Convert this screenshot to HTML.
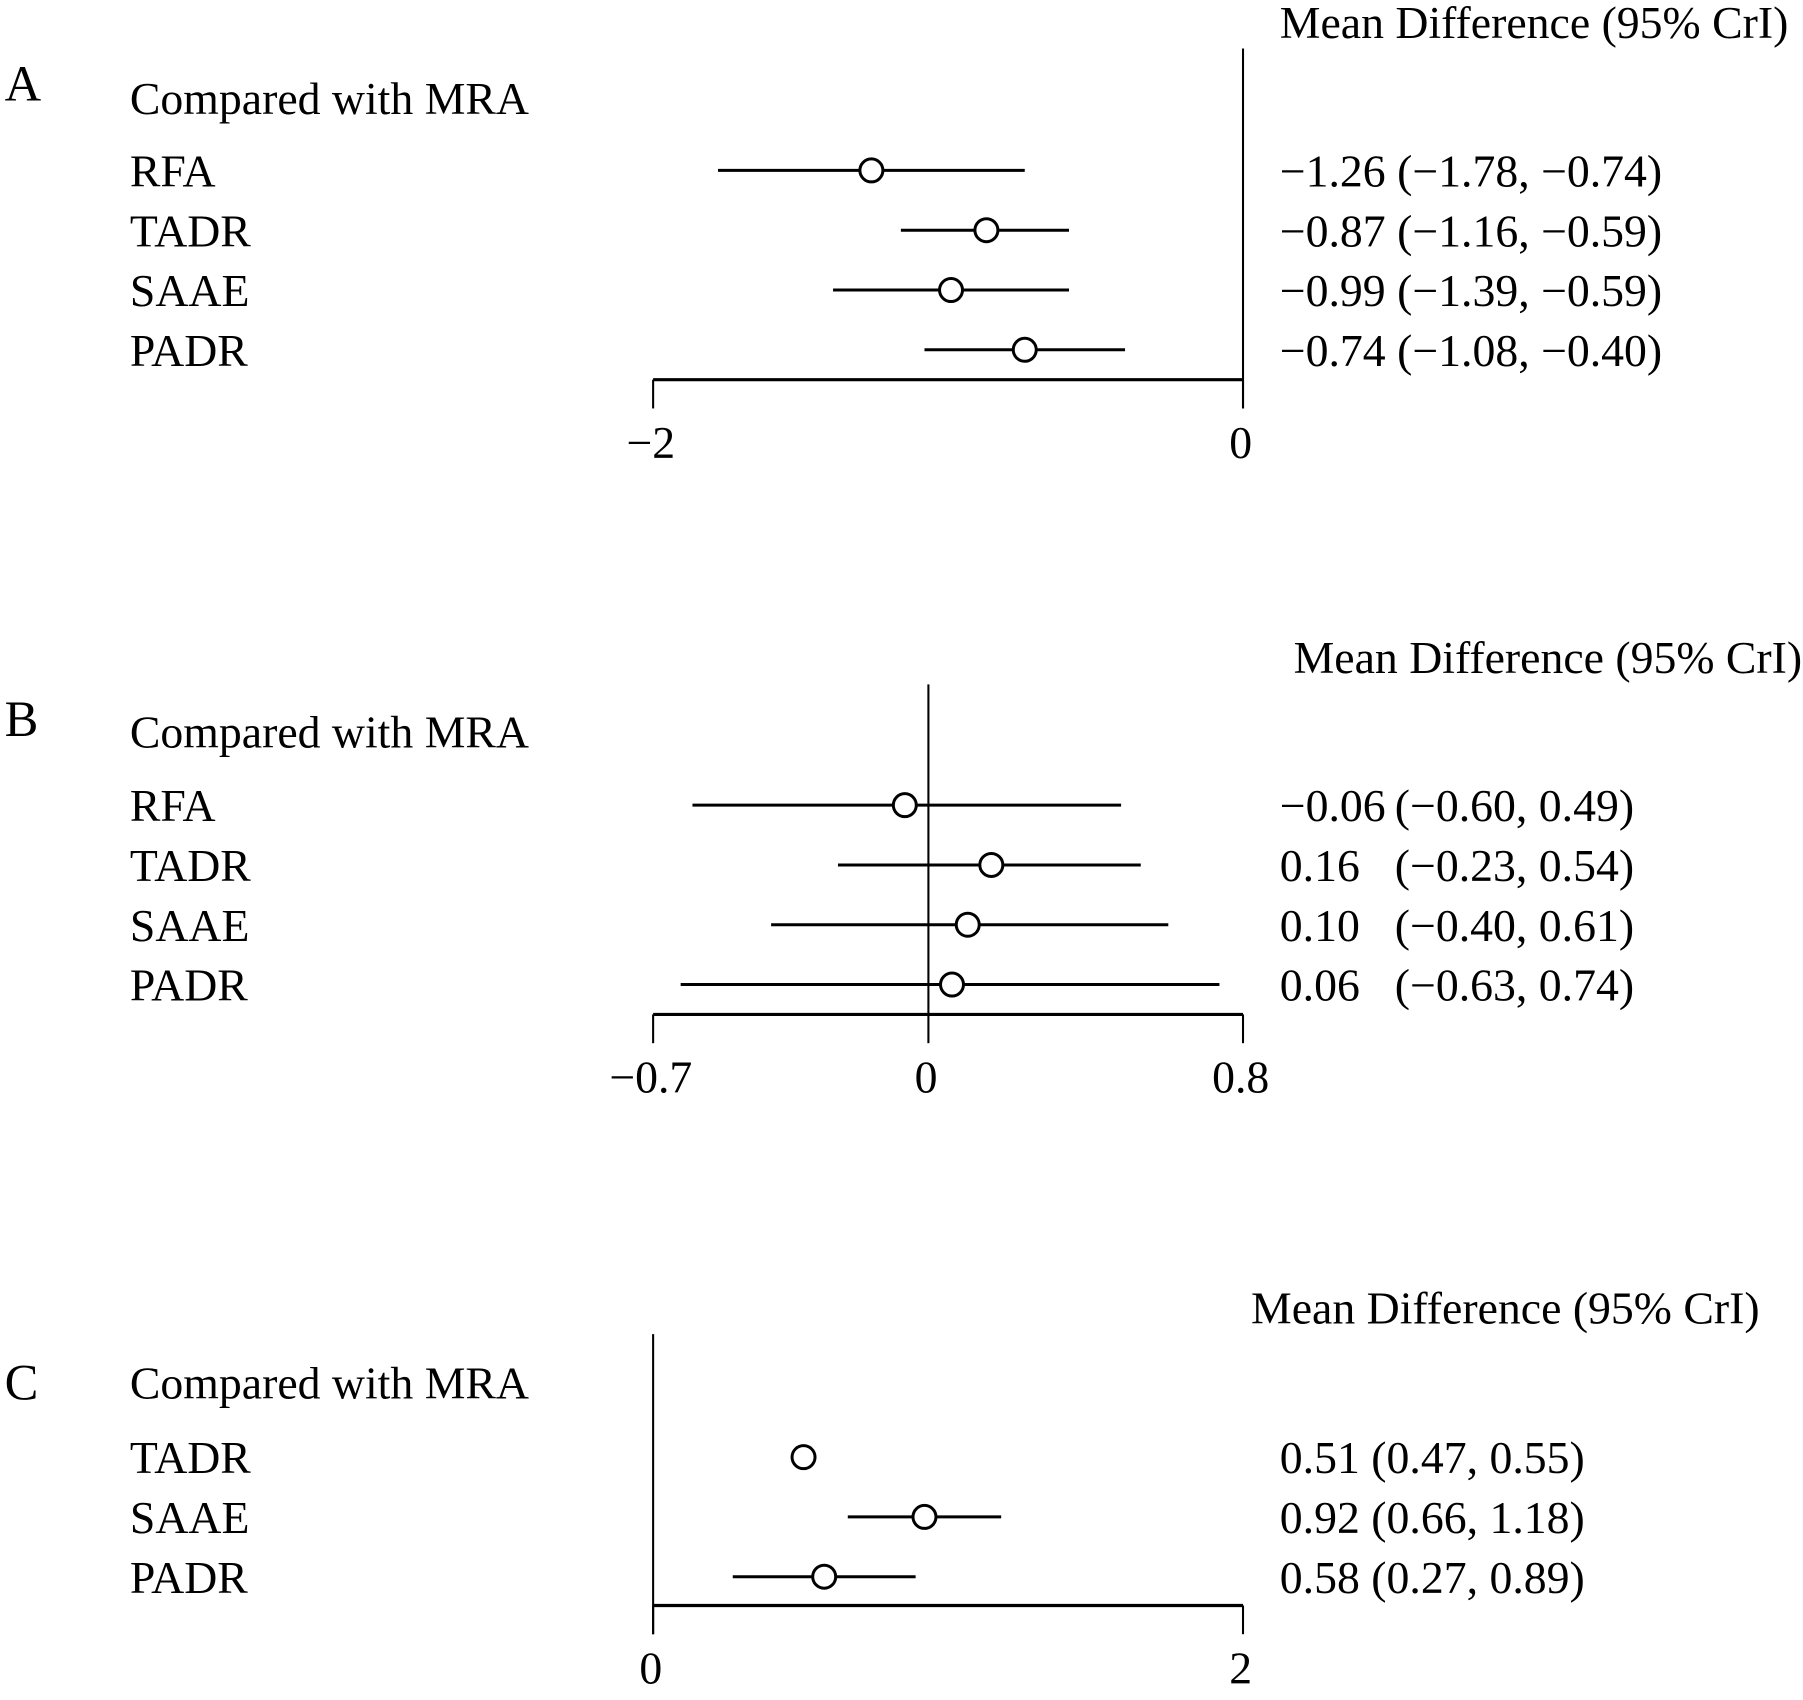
<!DOCTYPE html>
<html><head><meta charset="utf-8"><style>
html,body{margin:0;padding:0;background:#fff}
svg{display:block}
text{font-family:"Liberation Serif","Times New Roman",serif;fill:#000}
</style></head><body>
<svg id="chart" width="1803" height="1700" viewBox="0 0 1568 1478" xmlns="http://www.w3.org/2000/svg"></svg>
<script>
// Panel A
const catsA = ["RFA","TADR","SAAE","PADR"];
const meanA = [-1.26,-0.87,-0.99,-0.74];
const lowA = [-1.78,-1.16,-1.39,-1.08];
const highA = [-0.74,-0.59,-0.59,-0.40];
const labA = ["\u22121.26 (\u22121.78, \u22120.74)","\u22120.87 (\u22121.16, \u22120.59)","\u22120.99 (\u22121.39, \u22120.59)","\u22120.74 (\u22121.08, \u22120.40)"];
const ticksA = [-2,0];
const tickLabA = ["\u22122","0"];
// Panel B
const catsB = ["RFA","TADR","SAAE","PADR"];
const meanB = [-0.06,0.16,0.10,0.06];
const lowB = [-0.60,-0.23,-0.40,-0.63];
const highB = [0.49,0.54,0.61,0.74];
const estLabB = ["\u22120.06","0.16","0.10","0.06"];
const ciLabB = ["(\u22120.60, 0.49)","(\u22120.23, 0.54)","(\u22120.40, 0.61)","(\u22120.63, 0.74)"];
const ticksB = [-0.7,0,0.8];
const tickLabB = ["\u22120.7","0","0.8"];
// Panel C
const catsC = ["TADR","SAAE","PADR"];
const meanC = [0.51,0.92,0.58];
const lowC = [0.47,0.66,0.27];
const highC = [0.55,1.18,0.89];
const labC = ["0.51 (0.47, 0.55)","0.92 (0.66, 1.18)","0.58 (0.27, 0.89)"];
const ticksC = [0,2];
const tickLabC = ["0","2"];

const svg = document.getElementById('chart');
const NS = "http://www.w3.org/2000/svg";
function mk(tag, attrs, parent){
  const e = document.createElementNS(NS, tag);
  for (const k in attrs) e.setAttribute(k, attrs[k]);
  (parent||svg).appendChild(e);
  return e;
}
function txt(s, x, y, size, anchor, parent){
  const t = mk('text', {x:x, y:y, 'font-size':size, 'text-anchor':anchor||'start'}, parent);
  t.textContent = s;
  return t;
}

function panel(cfg){
  const g = mk('g', {});
  
  
  const x0 = 568, x1 = 1081;
  const sx = v => x0 + (v - cfg.min) / (cfg.max - cfg.min) * (x1 - x0);
  const fs = 39.8;
  const L = txt(cfg.letter, 4, cfg.letterY + 14, 44, 'start', g);
  
  
  const h = txt("Mean Difference (95% CrI)", cfg.headerX, cfg.headerY + 13, fs, 'start', g);
  
  
  const c = txt("Compared with MRA", 113, cfg.compY + 13, fs, 'start', g);
  
  
  const zx = sx(0);
  const ref = mk('line', {x1:zx, x2:zx, y1:cfg.refTop, y2:cfg.refBottom, stroke:'#000', 'stroke-width':1.8}, g);
  
  
  const ax = mk('line', {x1:x0, x2:x1, y1:cfg.axisY, y2:cfg.axisY, stroke:'#000', 'stroke-width':2.8}, g);
  
  
  cfg.ticks.forEach((tv, i) => {
    const tx = sx(tv);
    const tk = mk('line', {x1:tx, x2:tx, y1:cfg.axisY, y2:cfg.axisY + 25, stroke:'#000', 'stroke-width':1.8}, g);
    
    
    const tl = txt(cfg.tickLabs[i], tx - 2, cfg.axisY + 68, fs, 'middle', g);
    
    
  });
  cfg.cats.forEach((name, i) => {
    const y = cfg.rowY0 + i * 52;
    const lb = txt(name, 113, y + 14, fs, 'start', g);
    
    
    const ci = mk('line', {x1:sx(cfg.low[i]), x2:sx(cfg.high[i]), y1:y, y2:y, stroke:'#000', 'stroke-width':2.6}, g);
    
    
    const pt = mk('circle', {cx:sx(cfg.mean[i]), cy:y, r:10, fill:'#fff', stroke:'#000', 'stroke-width':2.6}, g);
    
    
    if (cfg.labs) {
      const v = txt(cfg.labs[i], 1113, y + 14, fs, 'start', g);
      
      
    } else {
      const v = txt(cfg.est[i], 1113, y + 14, fs, 'start', g);
      
      
      const v2 = txt(cfg.ci[i], 1213, y + 14, fs, 'start', g);
      
      
    }
  });
}

panel({id:'a', letter:'A', letterY:73, headerX:1113, headerY:20, compY:86, min:-2, max:0,
  refTop:42, refBottom:355, axisY:330, rowY0:148,
  cats:catsA, mean:meanA, low:lowA, high:highA, labs:labA, ticks:ticksA, tickLabs:tickLabA});
panel({id:'b', letter:'B', letterY:626, headerX:1125, headerY:572, compY:637, min:-0.7, max:0.8,
  refTop:595, refBottom:882, axisY:882, rowY0:700,
  cats:catsB, mean:meanB, low:lowB, high:highB, est:estLabB, ci:ciLabB, ticks:ticksB, tickLabs:tickLabB});
panel({id:'c', letter:'C', letterY:1203, headerX:1088, headerY:1138, compY:1203, min:0, max:2,
  refTop:1160, refBottom:1421, axisY:1396, rowY0:1267,
  cats:catsC, mean:meanC, low:lowC, high:highC, labs:labC, ticks:ticksC, tickLabs:tickLabC});
</script>
</body></html>
